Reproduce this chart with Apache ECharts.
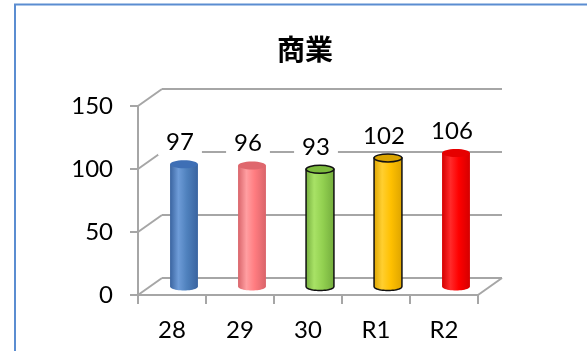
<!DOCTYPE html>
<html><head><meta charset="utf-8">
<script src="https://cdn.jsdelivr.net/npm/echarts@6/dist/echarts.min.js"></script>
<style>html,body{margin:0;padding:0;background:#fff}#c{width:587px;height:351px}</style>
</head><body><div id="c"></div>
<script>
// ---- data ----
const chartTitle = '商業';
const categories = ['28', '29', '30', 'R1', 'R2'];
const values = [97, 96, 93, 102, 106];
const yTicks = [0, 50, 100, 150];

// ---- style ----
const DX = 24, DY = -17;           // pseudo-3D depth offset
const GRID_COLOR = '#a6a6a6';
const FONT = 'Lato, "Open Sans", sans-serif';
const FS = 24;
const palette = [
  { dark: '#3a64a0', light: '#6e9cd8', base: '#4f81bd', top: '#3e6fb5', stroke: null },
  { dark: '#d9646a', light: '#ff9ea1', base: '#ff7c80', top: '#df676d', stroke: null },
  { dark: '#72ab3c', light: '#a8e266', base: '#92d050', top: '#7dbb3e', stroke: '#111' },
  { dark: '#dca300', light: '#ffcf30', base: '#ffc000', top: '#d9a300', stroke: '#111' },
  { dark: '#d40000', light: '#ff2a2a', base: '#ff0000', top: '#e60000', stroke: null }
];

const chart = echarts.init(document.getElementById('c'), null, { renderer: 'canvas' });

function frameItem(params, api) {
  const cs = params.coordSys;
  const v = api.value(1);
  const y = api.coord([0, v])[1];
  const ls = { stroke: GRID_COLOR, lineWidth: 2 };
  const children = [{ type: 'line', shape: { x1: cs.x, y1: y, x2: cs.x + DX, y2: y + DY }, style: ls }];
  if (v === 0) {
    children.push({ type: 'line', shape: { x1: cs.x + cs.width, y1: y, x2: cs.x + cs.width + DX, y2: y + DY }, style: ls });
  }
  return { type: 'group', children };
}

function cylItem(params, api) {
  const i = api.value(0);
  const v = api.value(1);
  const top = api.coord([i, v]);
  const bot = api.coord([i, 0]);
  const w = api.size([1, 0])[0] * 0.41;
  const rx = w / 2, ry = 4;
  const cx = top[0] + DX / 2;
  const topY = top[1] + DY / 2;
  const botY = bot[1] + DY / 2;
  const c = palette[i % palette.length];
  const pts = [[cx - rx, topY], [cx - rx, botY]];
  const N = 24;
  for (let k = 1; k < N; k++) {
    const t = Math.PI - k * Math.PI / N;
    pts.push([cx + rx * Math.cos(t), botY + ry * Math.sin(t)]);
  }
  pts.push([cx + rx, botY], [cx + rx, topY]);
  const grad = new echarts.graphic.LinearGradient(0, 0, 1, 0, [
    { offset: 0, color: c.dark },
    { offset: 0.3, color: c.light },
    { offset: 0.6, color: c.base },
    { offset: 1, color: c.dark }
  ]);
  return {
    type: 'group',
    children: [
      { type: 'polygon', shape: { points: pts },
        style: { fill: grad, stroke: c.stroke || 'none', lineWidth: c.stroke ? 1.5 : 0 } },
      { type: 'ellipse', shape: { cx: cx, cy: topY, rx: rx, ry: ry },
        style: { fill: c.top, stroke: c.stroke || 'none', lineWidth: c.stroke ? 1.5 : 0 } },
      { type: 'text', x: cx - 4, y: topY - 22,
        style: { text: String(v), fill: '#000', font: FS + 'px ' + FONT, align: 'center', verticalAlign: 'middle',
                 backgroundColor: '#fff', padding: [1, 8] } }
    ]
  };
}

chart.setOption({
  animation: false,
  backgroundColor: '#fff',
  title: {
    text: chartTitle, left: 272, top: 30,
    textStyle: { fontSize: 28, fontWeight: 'bold', color: '#000', fontFamily: '"Noto Sans CJK JP", sans-serif' }
  },
  graphic: [{
    type: 'rect', shape: { x: 15, y: 4.5, width: 800, height: 600 },
    style: { fill: 'none', stroke: '#5b8dd1', lineWidth: 2 }, silent: true
  }],
  grid: [
    { left: 138, top: 106, width: 340, height: 189, outerBoundsMode: 'none', containLabel: false },
    { left: 138 + DX, top: 106 + DY, width: 340, height: 189, outerBoundsMode: 'none', containLabel: false }
  ],
  xAxis: [
    { gridIndex: 0, type: 'category', data: categories,
      axisLine: { show: true, lineStyle: { color: GRID_COLOR, width: 2 } },
      axisTick: { show: true, length: 9, alignWithLabel: false, lineStyle: { color: GRID_COLOR, width: 2 } },
      axisLabel: { color: '#000', fontSize: FS, fontFamily: FONT, margin: 23, interval: 0 },
      splitLine: { show: false } },
    { gridIndex: 1, type: 'category', data: categories, show: false }
  ],
  yAxis: [
    { gridIndex: 0, type: 'value', min: 0, max: 150, interval: 50,
      axisLine: { show: true, lineStyle: { color: GRID_COLOR, width: 2 } },
      axisTick: { show: true, length: 8, lineStyle: { color: GRID_COLOR, width: 2 } },
      axisLabel: { color: '#000', fontSize: FS, fontFamily: FONT, margin: 25 },
      splitLine: { show: false } },
    { gridIndex: 1, type: 'value', min: 0, max: 150, interval: 50,
      axisLine: { show: false }, axisTick: { show: false }, axisLabel: { show: false },
      splitLine: { show: true, showMinLine: true, showMaxLine: true, lineStyle: { color: GRID_COLOR, width: 2 } } }
  ],
  series: [
    { type: 'custom', xAxisIndex: 0, yAxisIndex: 0, z: 1, silent: true,
      data: yTicks.map(v => [0, v]), encode: { x: 0, y: 1 }, renderItem: frameItem, clip: false },
    { type: 'custom', xAxisIndex: 0, yAxisIndex: 0, z: 3,
      data: values.map((v, i) => [i, v]), encode: { x: 0, y: 1 }, renderItem: cylItem, clip: false }
  ]
});
</script>
</body></html>
